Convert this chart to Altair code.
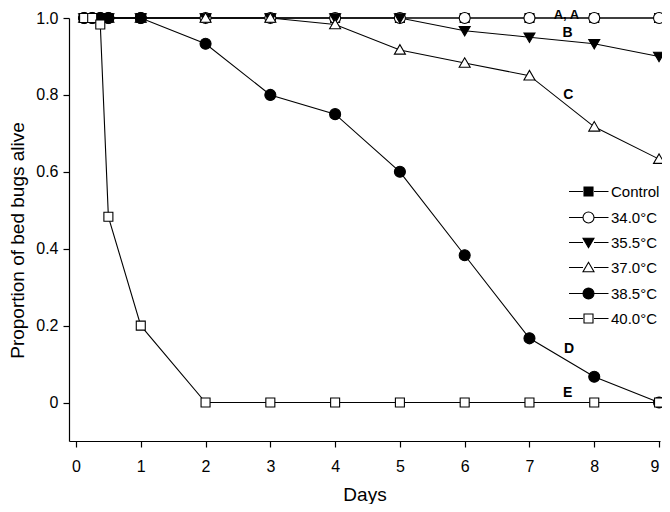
import altair as alt
import pandas as pd

# ---- data ----
days = [0.125, 0.25, 0.375, 0.5, 1, 2, 3, 4, 5, 6, 7, 8, 9]
series = ["Control", "34.0°C", "35.5°C", "37.0°C", "38.5°C", "40.0°C"]
control = [1.0, 1.0, 1.0, 1.0, 1.0, 1.0, 1.0, 1.0, 1.0, 1.0, 1.0, 1.0, 1.0]
t340 = [1.0, 1.0, 1.0, 1.0, 1.0, 1.0, 1.0, 1.0, 1.0, 1.0, 1.0, 1.0, 1.0]
t355 = [1.0, 1.0, 1.0, 1.0, 1.0, 1.0, 1.0, 1.0, 1.0, 0.967, 0.95, 0.933, 0.9]
t370 = [1.0, 1.0, 1.0, 1.0, 1.0, 1.0, 1.0, 0.983, 0.917, 0.883, 0.85, 0.717, 0.633]
t385 = [1.0, 1.0, 1.0, 1.0, 1.0, 0.933, 0.8, 0.75, 0.6, 0.383, 0.167, 0.067, 0.0]
t400 = [1.0, 1.0, 0.983, 0.483, 0.2, 0.0, 0.0, 0.0, 0.0, 0.0, 0.0, 0.0, 0.0]
fills = ["black", "white", "black", "white", "black", "white"]
strokes = ["black", "black", "black", "black", "black", "black"]

label_text = ["A, A", "B", "C", "D", "E"]
label_day = [7.57, 7.59, 7.6, 7.61, 7.59]
label_value = [1.008, 0.962, 0.799, 0.139, 0.025]
label_size = [13, 14, 14, 14, 14]

x_ticks = [0, 1, 2, 3, 4, 5, 6, 7, 8, 9]
y_ticks = [0, 0.2, 0.4, 0.6, 0.8, 1.0]

# ---- marker shapes (unit box) ----
sq = "M-0.9,-0.9H0.9V0.9H-0.9Z"
ci = "M-1.1,0A1.1,1.1,0,1,0,1.1,0A1.1,1.1,0,1,0,-1.1,0Z"
td = "M-1.1,-0.85L1.1,-0.85L0,1.05Z"
tu = "M-1.1,0.85L1.1,0.85L0,-1.05Z"
plain_paths = [sq, ci, td, tu, ci, sq]
leg_line = "M-3.9,0H-1.1M1.1,0H4.0"
legend_paths = [leg_line + p for p in plain_paths]

all_vals = [control, t340, t355, t370, t385, t400]
rows = []
for s, vals in zip(series, all_vals):
    for d, v in zip(days, vals):
        rows.append({"series": s, "day": d, "value": v})
df = pd.DataFrame(rows)
labels_df = pd.DataFrame({"day": label_day, "value": label_value, "txt": label_text,
                          "fs": label_size})

FONT = "Liberation Sans"

x_enc = alt.X(
    "day:Q",
    scale=alt.Scale(domain=[-0.108, 9.015], nice=False, zero=False),
    axis=alt.Axis(values=x_ticks, format="d", title="Days", titleFontSize=19,
                  titlePadding=11, labelPadding=11),
)
y_enc = alt.Y(
    "value:Q",
    scale=alt.Scale(domain=[-0.1, 1.0], nice=False, zero=False),
    axis=alt.Axis(values=y_ticks, title="Proportion of bed bugs alive",
                  labelExpr="datum.value == 0 ? '0' : format(datum.value, '.1f')",
                  titleFontSize=19, titlePadding=8, labelPadding=5, titleY=222),
)

legend_kw = dict(
    title=None, orient="none", legendX=512, legendY=166,
    symbolSize=100, symbolOpacity=1, symbolStrokeWidth=1.1,
    labelFont=FONT, labelFontSize=15, labelColor="black",
    labelOffset=15, rowPadding=9, padding=0,
)

base = alt.Chart(df)

lines = base.mark_line(color="black", strokeWidth=1.1).encode(
    x=x_enc, y=y_enc, detail="series:N"
)

legend_layer = base.mark_point(filled=True, strokeWidth=1.1,
                               size=100, opacity=0).encode(
    x=x_enc, y=y_enc,
    shape=alt.Shape("series:N", scale=alt.Scale(domain=series, range=legend_paths),
                    legend=alt.Legend(**legend_kw)),
    fill=alt.Fill("series:N", scale=alt.Scale(domain=series, range=fills),
                  legend=alt.Legend(**legend_kw)),
    stroke=alt.Stroke("series:N", scale=alt.Scale(domain=series, range=strokes),
                      legend=alt.Legend(**legend_kw)),
)

points = base.mark_point(filled=True, stroke="black", strokeWidth=1.1,
                         size=100, opacity=1).encode(
    x=x_enc, y=y_enc,
    shape=alt.Shape("series:N", scale=alt.Scale(domain=series, range=plain_paths), legend=None),
    fill=alt.Fill("series:N", scale=alt.Scale(domain=series, range=fills), legend=None),
)

texts = alt.Chart(labels_df).mark_text(font=FONT, fontWeight="bold",
                                       align="center", baseline="middle",
                                       color="black").encode(
    x=x_enc, y=y_enc, text="txt:N",
    size=alt.Size("fs:Q", scale=None, legend=None),
)

chart = alt.layer(lines, legend_layer, points, texts).resolve_scale(
    shape="independent", fill="independent", stroke="independent"
).properties(
    width=591, height=423,
    autosize=alt.AutoSizeParams(type="none"),
    padding={"left": 61, "top": 10, "right": 2, "bottom": 63},
).configure_view(stroke=None).configure_axis(
    grid=False, domainColor="black", domainWidth=1.2, tickColor="black", tickWidth=1.2,
    tickSize=6, labelFont=FONT, labelFontSize=16, labelColor="black",
    titleFont=FONT, titleFontWeight="normal", titleColor="black",
)

chart.save("out.html", embed_options={"renderer": "svg", "actions": False})
